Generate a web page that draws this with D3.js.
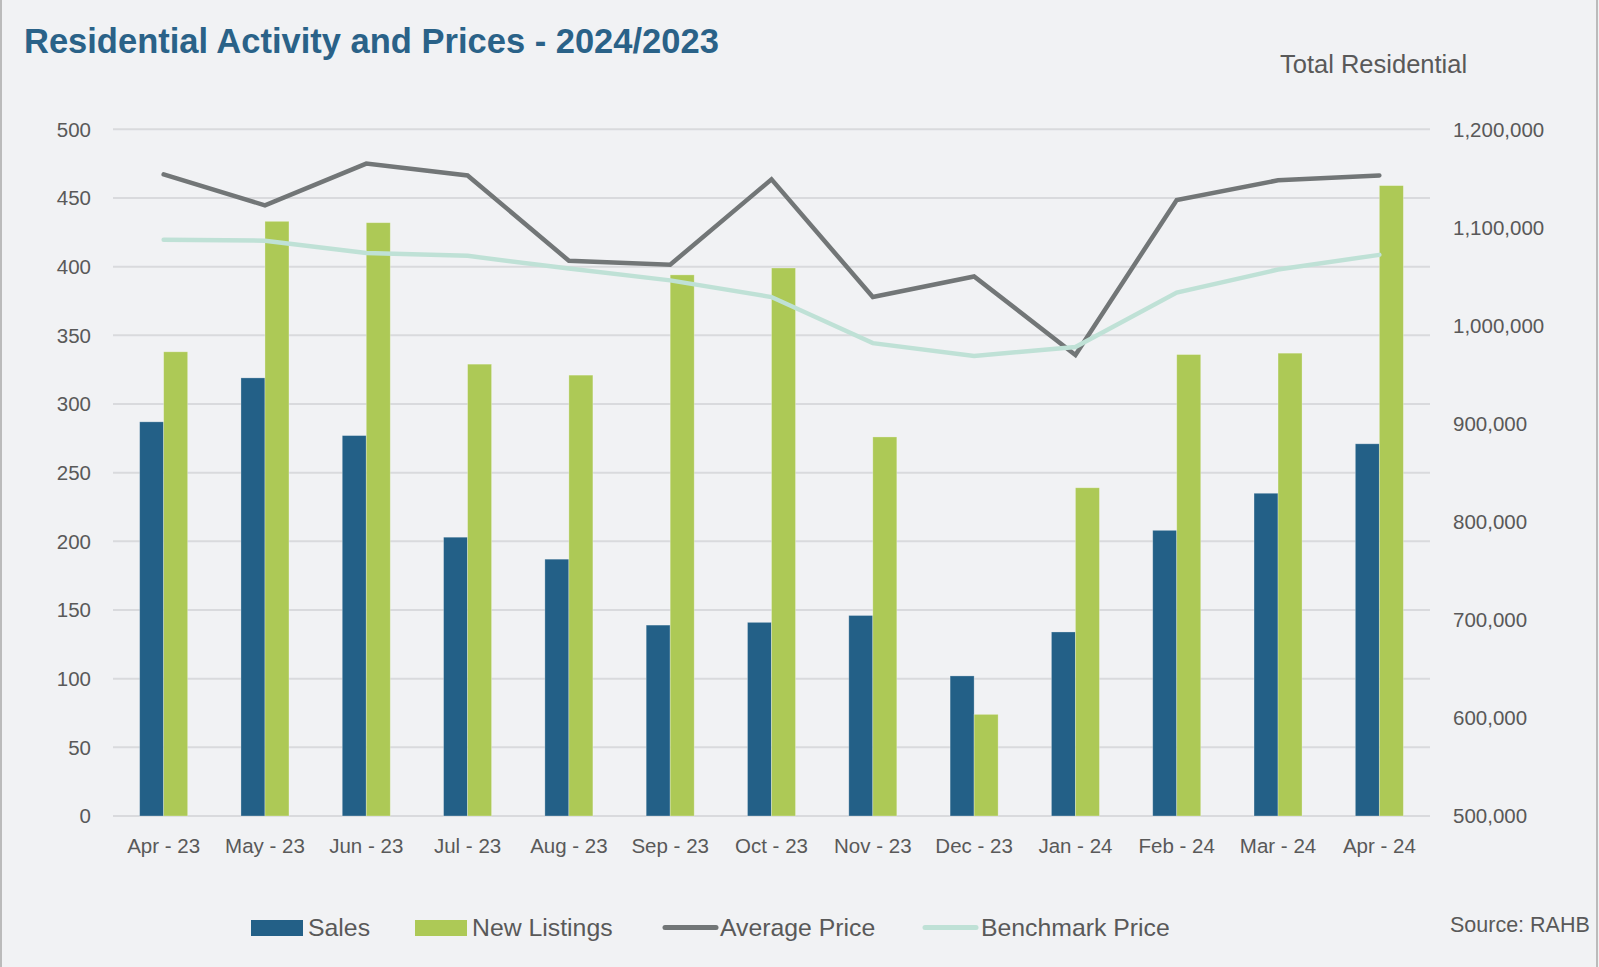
<!DOCTYPE html>
<html>
<head>
<meta charset="utf-8">
<script src="https://cdn.jsdelivr.net/npm/d3@7"></script>
<style>
  html, body { margin: 0; padding: 0; background: #f1f2f4; }
  svg { display: block; }
</style>
</head>
<body>
<svg id="chart" width="1599" height="967"></svg>
<script>
// ---- Data ----
const categories = ["Apr - 23","May - 23","Jun - 23","Jul - 23","Aug - 23","Sep - 23","Oct - 23","Nov - 23","Dec - 23","Jan - 24","Feb - 24","Mar - 24","Apr - 24"];
const sales = [287, 319, 277, 203, 187, 139, 141, 146, 102, 134, 208, 235, 271];
const newListings = [338, 433, 432, 329, 321, 394, 399, 276, 74, 239, 336, 337, 459];
const averagePrice = [1154000, 1122500, 1165000, 1153000, 1066000, 1062000, 1149000, 1029000, 1050000, 970000, 1128000, 1148000, 1153000];
const benchmarkPrice = [1087500, 1086500, 1074000, 1071000, 1058000, 1046000, 1029000, 982000, 969000, 978000, 1033500, 1057000, 1072000];
const leftTicks = [0, 50, 100, 150, 200, 250, 300, 350, 400, 450, 500];
const rightTicks = [500000, 600000, 700000, 800000, 900000, 1000000, 1100000, 1200000];
const barSeries = ["Sales", "New Listings"];

// ---- Styles ----
const C = {
  bg: "#f1f2f4", sales: "#236087", listings: "#adc956",
  avg: "#727677", bench: "#bfe1d6", grid: "#d9dadd", text: "#595959", title: "#2a6288"
};
const font = "'Liberation Sans', Arial, sans-serif";

const svg = d3.select("#chart");
svg.append("rect").attr("width", 1599).attr("height", 967).attr("fill", C.bg);
svg.append("line").attr("x1", 1).attr("x2", 1).attr("y1", 0).attr("y2", 967).attr("stroke", "#a9a9a9").attr("stroke-width", 1.5);
svg.append("line").attr("x1", 1597).attr("x2", 1597).attr("y1", 0).attr("y2", 967).attr("stroke", "#a9a9a9").attr("stroke-width", 1.5);

const plot = { left: 113, right: 1430, top: 129.3, bottom: 816 };

const x = d3.scaleBand().domain(categories).range([plot.left, plot.right]).paddingInner(0).paddingOuter(0);
const barW = x.bandwidth() * 0.237;
const xInner = d3.scaleBand().domain(barSeries).range([x.bandwidth() / 2 - barW, x.bandwidth() / 2 + barW]);
const yL = d3.scaleLinear().domain([0, 500]).range([plot.bottom, plot.top]);
const yR = d3.scaleLinear().domain([500000, 1200000]).range([plot.bottom, plot.top]);

// Title
svg.append("text").attr("x", 24).attr("y", 53)
  .attr("font-family", font).attr("font-weight", "bold")
  .attr("font-size", 34.5).attr("fill", C.title)
  .text("Residential Activity and Prices - 2024/2023");

svg.append("text").attr("x", 1280).attr("y", 73)
  .attr("font-family", font)
  .attr("font-size", 25.5).attr("fill", C.text)
  .text("Total Residential");

// Gridlines
svg.append("g").selectAll("line").data(leftTicks).join("line")
  .attr("x1", plot.left).attr("x2", plot.right)
  .attr("y1", d => yL(d)).attr("y2", d => yL(d))
  .attr("stroke", C.grid).attr("stroke-width", 2);

// Left axis labels
svg.append("g").selectAll("text").data(leftTicks).join("text")
  .attr("x", 91).attr("y", d => yL(d)).attr("dy", "0.36em")
  .attr("text-anchor", "end").attr("font-family", font).attr("font-size", 20.5)
  .attr("fill", C.text).text(d => d3.format("d")(d));

// Right axis labels
svg.append("g").selectAll("text").data(rightTicks).join("text")
  .attr("x", 1453).attr("y", d => yR(d)).attr("dy", "0.36em")
  .attr("text-anchor", "start").attr("font-family", font).attr("font-size", 20.5)
  .attr("fill", C.text).text(d => d3.format(",")(d));

// X labels
svg.append("g").selectAll("text").data(categories).join("text")
  .attr("x", d => x(d) + x.bandwidth() / 2).attr("y", 853)
  .attr("text-anchor", "middle").attr("font-family", font).attr("font-size", 20.5)
  .attr("fill", C.text).text(d => d);

// Bars
const barData = categories.flatMap((c, i) => [
  { cat: c, s: "Sales", v: sales[i] },
  { cat: c, s: "New Listings", v: newListings[i] }
]);
svg.append("g").selectAll("rect").data(barData).join("rect")
  .attr("x", d => x(d.cat) + xInner(d.s))
  .attr("y", d => yL(d.v))
  .attr("width", xInner.bandwidth())
  .attr("height", d => yL(0) - yL(d.v))
  .attr("fill", d => d.s === "Sales" ? C.sales : C.listings)
  .attr("stroke", "rgba(255,255,255,0.35)").attr("stroke-width", 0.8);

// Lines
const line = d3.line().x((d, i) => x(categories[i]) + x.bandwidth() / 2).y(d => yR(d));
svg.append("path").datum(averagePrice).attr("d", line)
  .attr("fill", "none").attr("stroke", C.avg).attr("stroke-width", 4.5)
  .attr("stroke-linecap", "round").attr("stroke-linejoin", "miter");
svg.append("path").datum(benchmarkPrice).attr("d", line)
  .attr("fill", "none").attr("stroke", C.bench).attr("stroke-width", 4.5)
  .attr("stroke-linecap", "round").attr("stroke-linejoin", "miter");

// Legend
const lg = svg.append("g");
lg.append("rect").attr("x", 251).attr("y", 920).attr("width", 52).attr("height", 16).attr("fill", C.sales);
lg.append("text").attr("x", 308).attr("y", 936).attr("font-family", font).attr("font-size", 24.8).attr("fill", C.text).text("Sales");
lg.append("rect").attr("x", 415).attr("y", 920).attr("width", 52).attr("height", 16).attr("fill", C.listings);
lg.append("text").attr("x", 472).attr("y", 936).attr("font-family", font).attr("font-size", 24.8).attr("fill", C.text).text("New Listings");
lg.append("line").attr("x1", 665).attr("x2", 716).attr("y1", 927.5).attr("y2", 927.5).attr("stroke", C.avg).attr("stroke-width", 5).attr("stroke-linecap", "round");
lg.append("text").attr("x", 720).attr("y", 936).attr("font-family", font).attr("font-size", 24.8).attr("fill", C.text).text("Average Price");
lg.append("line").attr("x1", 925).attr("x2", 976).attr("y1", 927.5).attr("y2", 927.5).attr("stroke", C.bench).attr("stroke-width", 5).attr("stroke-linecap", "round");
lg.append("text").attr("x", 981).attr("y", 936).attr("font-family", font).attr("font-size", 24.8).attr("fill", C.text).text("Benchmark Price");

svg.append("text").attr("x", 1450).attr("y", 932).attr("font-family", font).attr("font-size", 21.5).attr("fill", C.text).text("Source: RAHB");
</script>
</body>
</html>
